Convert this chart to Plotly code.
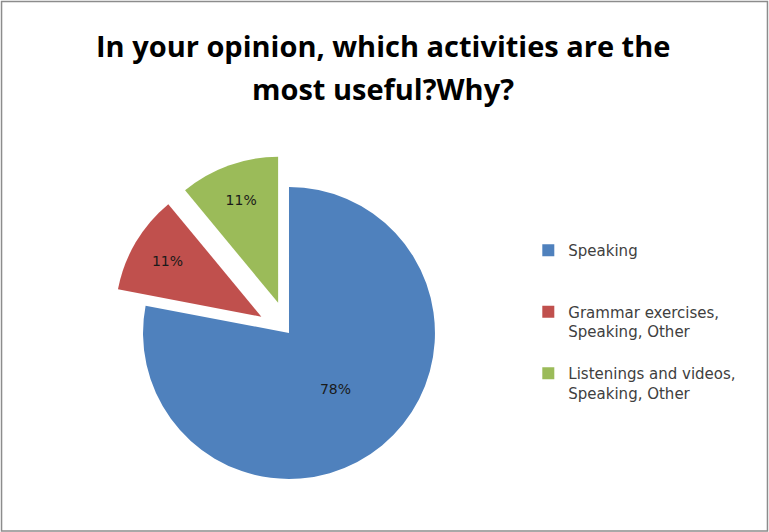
import plotly.graph_objects as go

labels = ["Speaking", "Grammar exercises,<br>Speaking, Other", "Listenings and videos,<br>Speaking, Other"]
legend_names = ["Speaking<br> <br> ", "Grammar exercises,<br>Speaking, Other<br> ", "Listenings and videos,<br>Speaking, Other"]
values = [78, 11, 11]
colors = ["#4F81BD", "#C0504D", "#9BBB59"]
pulls = [0, 0.22, 0.22]
title_lines = ["In your opinion, which activities are the", "most useful?Why?"]

W, H = 769, 532
fig = go.Figure()
fig.add_trace(go.Pie(
    labels=legend_names,
    values=values,
    sort=False,
    direction="clockwise",
    rotation=0,
    pull=pulls,
    marker=dict(colors=colors, line=dict(width=0)),
    textinfo="percent",
    texttemplate="%{percent:.0%}",
    textposition="inside",
    insidetextorientation="horizontal",
    textfont=dict(family="DejaVu Sans", size=14, color="#1a1a1a"),
    domain=dict(x=[0.1442, 0.6074], y=[0.0393, 0.7088]),
    hoverinfo="skip",
))

for i, (t, y) in enumerate(zip(title_lines, [46, 88])):
    fig.add_annotation(text="<b>" + t + "</b>", x=0.498, y=1 - y / H, xref="paper", yref="paper",
                       showarrow=False, xanchor="center", yanchor="middle",
                       font=dict(family="Open Sans", size=29, color="#000000"))

fig.add_shape(type="rect", xref="paper", yref="paper", x0=0.002, y0=0.002, x1=0.998, y1=0.997,
              line=dict(color="#8c8c8c", width=1.5))

fig.update_layout(
    width=W, height=H,
    margin=dict(l=0, r=0, t=0, b=0),
    paper_bgcolor="white",
    plot_bgcolor="white",
    showlegend=True,
    legend=dict(x=0.687, y=1 - 234 / H, xanchor="left", yanchor="top", valign="top",
                font=dict(family="DejaVu Sans", size=15, color="#404040"),
                bgcolor="rgba(0,0,0,0)", itemclick=False),
)

fig.write_html("out.html")
